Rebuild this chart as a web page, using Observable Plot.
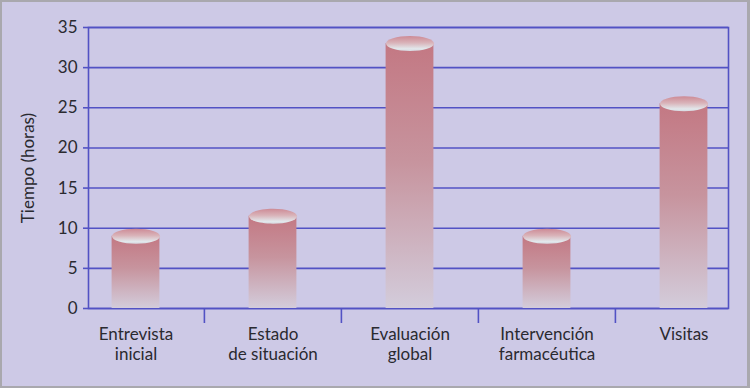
<!DOCTYPE html>
<html><head><meta charset="utf-8">
<script src="https://cdn.jsdelivr.net/npm/d3@7"></script>
<script src="https://cdn.jsdelivr.net/npm/@observablehq/plot@0.6"></script>
<style>
html,body{margin:0;padding:0;background:#cdc9e6;}
#chart{width:750px;height:388px;position:relative;overflow:hidden;}
#chart svg{display:block;}
#chart::after{content:"";position:absolute;left:0;top:0;right:0;bottom:0;border:2px solid #a9a8ae;border-right-width:3px;pointer-events:none;}
</style></head><body><div id="chart"></div>
<script>
const categories = ["Entrevista\ninicial", "Estado\nde situación", "Evaluación\nglobal", "Intervención\nfarmacéutica", "Visitas"];
const hours = [9, 11.5, 33, 9, 25.5];
const yTicks = [0, 5, 10, 15, 20, 25, 30, 35];
const yLabel = "Tiempo (horas)";

const data = categories.map((c, i) => ({category: c, hours: hours[i]}));
const blue = "#5252c4";

const ellipse = {
  draw(context) {
    const k = 0.5523, rx = 24, ry = 7.5;
    context.moveTo(rx, 0);
    context.bezierCurveTo(rx, ry * k, rx * k, ry, 0, ry);
    context.bezierCurveTo(-rx * k, ry, -rx, ry * k, -rx, 0);
    context.bezierCurveTo(-rx, -ry * k, -rx * k, -ry, 0, -ry);
    context.bezierCurveTo(rx * k, -ry, rx, -ry * k, rx, 0);
    context.closePath();
  }
};

const chart = Plot.plot({
  width: 750,
  height: 388,
  marginTop: 27,
  marginBottom: 80,
  marginLeft: 88,
  marginRight: 22,
  style: {background: "#cdc9e6", fontFamily: "Lato, 'Liberation Sans', sans-serif", fontSize: "17px", color: "#2a2a30"},
  x: {domain: categories, range: [66, 752], padding: 0},
  y: {domain: [0, 35]},
  marks: [
    Plot.ruleY(yTicks, {stroke: blue, strokeWidth: 1.6}),
    Plot.frame({stroke: blue, strokeWidth: 1.6}),
    Plot.ruleX(categories.slice(1), {x: d => d, y1: 0, y2: 0, dx: -68.6, insetBottom: -15, stroke: blue, strokeWidth: 1.6}),
    Plot.barY(data, {x: "category", y: "hours", insetLeft: 44.6, insetRight: 44.6, fill: "url(#bodyGrad)"}),
    Plot.dot(data, {x: "category", y: "hours", symbol: ellipse, r: 5, fill: "url(#capGrad)", stroke: "none"}),
    Plot.axisY({ticks: yTicks, tickSize: 5, tickPadding: 6, stroke: blue, strokeWidth: 1.6, fill: "#2a2a30", fontSize: 17,
      label: yLabel, labelAnchor: "center", labelArrow: "none", labelOffset: 67}),
    Plot.axisX({tickSize: 0, tickPadding: 17, fontSize: 17, lineHeight: 1.2, fill: "#2a2a30", label: null})
  ]
});

const defs = d3.select(chart).insert("defs", ":first-child");
const g1 = defs.append("linearGradient").attr("id", "bodyGrad").attr("x1", 0).attr("y1", 0).attr("x2", 0).attr("y2", 1);
g1.append("stop").attr("offset", "0%").attr("stop-color", "#c37883");
g1.append("stop").attr("offset", "45%").attr("stop-color", "#c7949e");
g1.append("stop").attr("offset", "100%").attr("stop-color", "#d3ccdb");
const g2 = defs.append("linearGradient").attr("id", "capGrad").attr("x1", 0).attr("y1", 0).attr("x2", 0).attr("y2", 1);
g2.append("stop").attr("offset", "0%").attr("stop-color", "#cd8a95");
g2.append("stop").attr("offset", "45%").attr("stop-color", "#d9b3b9");
g2.append("stop").attr("offset", "85%").attr("stop-color", "#e2e8ec");
g2.append("stop").attr("offset", "100%").attr("stop-color", "#d6d8e0");

document.getElementById("chart").appendChild(chart);
</script>
</body></html>
